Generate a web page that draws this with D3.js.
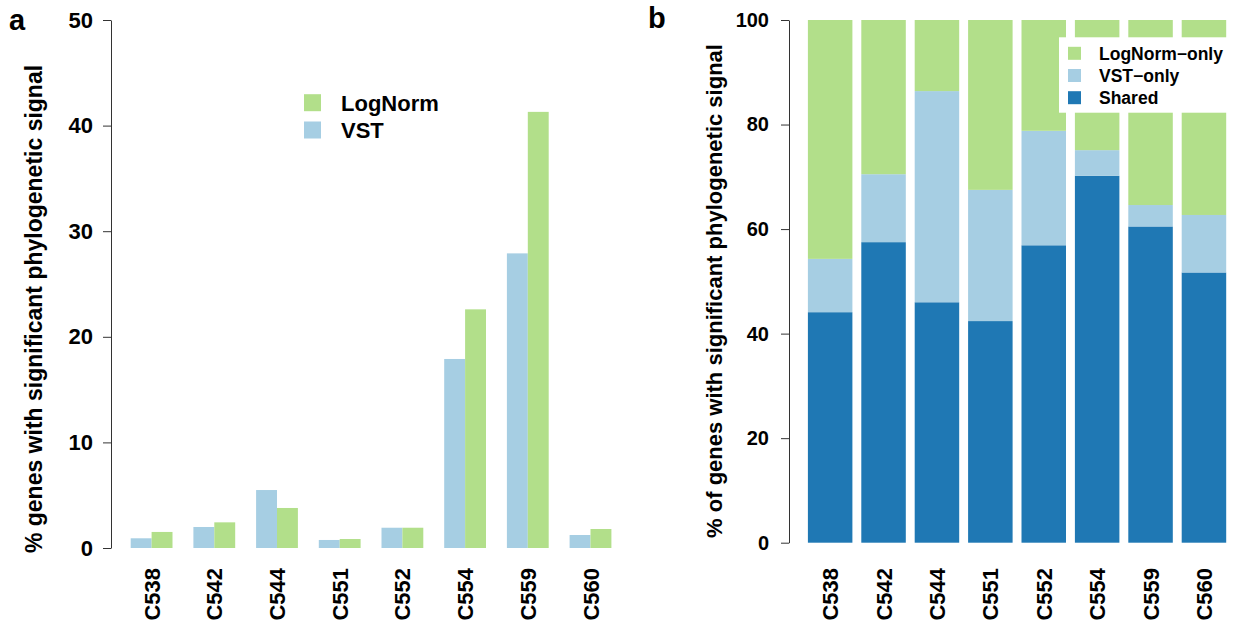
<!DOCTYPE html>
<html>
<head>
<meta charset="utf-8">
<script src="https://cdn.jsdelivr.net/npm/d3@7"></script>
<style>
  html, body { margin: 0; padding: 0; background: #fff; }
  svg text { font-family: "Liberation Sans", Arial, Helvetica, sans-serif; font-weight: bold; fill: #000; }
</style>
</head>
<body>
<svg id="fig" width="1247" height="628"></svg>
<script>
// Samples shown on both panels
const samples = ["C538", "C542", "C544", "C551", "C552", "C554", "C559", "C560"];

// Panel a: % of genes with significant phylogenetic signal per normalisation
const vstPct     = [0.92, 1.99, 5.49, 0.76, 1.92, 17.9, 27.9, 1.23];
const logNormPct = [1.52, 2.43, 3.79, 0.85, 1.92, 22.6, 41.3, 1.80];
const yTicksA = [0, 10, 20, 30, 40, 50];

// Panel b: composition of significant genes (stacked, sums to 100)
const sharedPct      = [44.1, 57.5, 46.0, 42.4, 56.9, 70.2, 60.5, 51.7];
const vstOnlyPct     = [10.2, 13.0, 40.4, 25.1, 21.9, 4.9, 4.1, 11.0];
const logNormOnlyPct = [45.7, 29.5, 13.6, 32.5, 21.2, 24.9, 35.4, 37.3];
const yTicksB = [0, 20, 40, 60, 80, 100];

const GREEN = "#b2df8a", LIGHT = "#a6cee3", DARK = "#1f78b4";
const AXIS = "#333";

const svg = d3.select("#fig");

// ---------- Panel a: grouped bars ----------
const gA = svg.append("g");
// bar units: each group = VST, LogNorm, then one empty unit
const xA = d3.scaleLinear().domain([0, 24]).range([109.8, 109.8 + 24 * 20.9]);
const yA = d3.scaleLinear().domain([0, 50]).range([548, 20]);

samples.forEach((s, i) => {
  const u = 1 + 3 * i;
  gA.append("rect")
    .attr("x", xA(u)).attr("width", xA(u + 1) - xA(u))
    .attr("y", yA(vstPct[i])).attr("height", yA(0) - yA(vstPct[i]))
    .attr("fill", LIGHT);
  gA.append("rect")
    .attr("x", xA(u + 1)).attr("width", xA(u + 2) - xA(u + 1))
    .attr("y", yA(logNormPct[i])).attr("height", yA(0) - yA(logNormPct[i]))
    .attr("fill", GREEN);
  gA.append("text")
    .attr("transform", `translate(${xA(u + 1) + 8},568) rotate(-90)`)
    .attr("text-anchor", "end")
    .style("font-size", "22px")
    .text(s);
});

const axA = gA.append("g")
  .attr("transform", "translate(111,0)")
  .call(d3.axisLeft(yA).tickValues(yTicksA).tickSize(8).tickSizeOuter(0).tickPadding(10));
axA.selectAll("path, line").attr("stroke", AXIS);
axA.selectAll("text").style("font-size", "22px").style("font-family", null);

gA.append("text")
  .attr("transform", "translate(42,309) rotate(-90)")
  .attr("text-anchor", "middle")
  .style("font-size", "23px")
  .text("% genes with significant phylogenetic signal");

gA.append("text").attr("x", 9).attr("y", 30).style("font-size", "29px").text("a");

// legend a
const legA = [["LogNorm", GREEN], ["VST", LIGHT]];
legA.forEach(([label, col], k) => {
  const cy = 102.7 + k * 27.3;
  gA.append("rect").attr("x", 304).attr("y", cy - 8.5).attr("width", 17).attr("height", 17).attr("fill", col);
  gA.append("text").attr("x", 341).attr("y", cy + 7.8).style("font-size", "22px").text(label);
});

// ---------- Panel b: stacked bars ----------
const gB = svg.append("g");
const bw = 44.5;
const xB = d3.scaleLinear().domain([0, 9.6]).range([799, 799 + 9.6 * bw]);
const yB = d3.scaleLinear().domain([0, 100]).range([542.7, 20]);

samples.forEach((s, i) => {
  const u = 0.2 + 1.2 * i;
  const parts = [[sharedPct[i], DARK], [vstOnlyPct[i], LIGHT], [logNormOnlyPct[i], GREEN]];
  let base = 0;
  parts.forEach(([v, col]) => {
    gB.append("rect")
      .attr("x", xB(u)).attr("width", xB(u + 1) - xB(u))
      .attr("y", yB(base + v)).attr("height", yB(base) - yB(base + v))
      .attr("fill", col);
    base += v;
  });
  gB.append("text")
    .attr("transform", `translate(${xB(u + 0.5) + 8},568) rotate(-90)`)
    .attr("text-anchor", "end")
    .style("font-size", "22px")
    .text(s);
});

const axB = gB.append("g")
  .attr("transform", "translate(789,0)")
  .call(d3.axisLeft(yB).tickValues(yTicksB).tickSize(8).tickSizeOuter(0).tickPadding(12));
axB.selectAll("path, line").attr("stroke", AXIS);
axB.selectAll("text").style("font-size", "20px").style("font-family", null);

gB.append("text")
  .attr("transform", "translate(722,291) rotate(-90)")
  .attr("text-anchor", "middle")
  .style("font-size", "22px")
  .text("% of genes with significant phylogenetic signal");

gB.append("text").attr("x", 648).attr("y", 28).style("font-size", "29px").text("b");

// legend b
gB.append("rect").attr("x", 1059).attr("y", 37.3).attr("width", 171).attr("height", 75.4).attr("fill", "#fff");
const legB = [["LogNorm\u2212only", GREEN], ["VST\u2212only", LIGHT], ["Shared", DARK]];
legB.forEach(([label, col], k) => {
  const cy = 53.3 + k * 22.2;
  gB.append("rect").attr("x", 1068).attr("y", cy - 6.5).attr("width", 13).attr("height", 13).attr("fill", col);
  gB.append("text").attr("x", 1099).attr("y", cy + 6.3).style("font-size", "17.5px").text(label);
});
</script>
</body>
</html>
